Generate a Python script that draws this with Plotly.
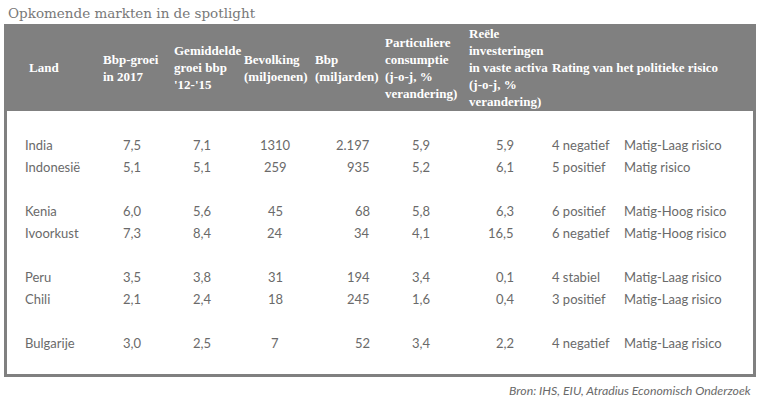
import plotly.graph_objects as go

# ---------------- data ----------------
countries = ["India", "Indonesië", "Kenia", "Ivoorkust", "Peru", "Chili", "Bulgarije"]
groups = [0, 0, 1, 1, 2, 2, 3]
bbp_groei_2017 = [7.5, 5.1, 6.0, 7.3, 3.5, 2.1, 3.0]
gem_groei_12_15 = [7.1, 5.1, 5.6, 8.4, 3.8, 2.4, 2.5]
bevolking_mln = [1310, 259, 45, 24, 31, 18, 7]
bbp_mld = [2197, 935, 68, 34, 194, 245, 52]
consumptie = [5.9, 5.2, 5.8, 4.1, 3.4, 1.6, 3.4]
investeringen = [5.9, 6.1, 6.3, 16.5, 0.1, 0.4, 2.2]
rating = ["4 negatief", "5 positief", "6 positief", "6 negatief", "4 stabiel", "3 positief", "4 negatief"]
risico = ["Matig-Laag risico", "Matig risico", "Matig-Hoog risico", "Matig-Hoog risico",
          "Matig-Laag risico", "Matig-Laag risico", "Matig-Laag risico"]

headers = ["Land", "Bbp-groei<br>in 2017", "Gemiddelde<br>groei bbp<br>'12-'15",
           "Bevolking<br>(miljoenen)", "Bbp<br>(miljarden)",
           "Particuliere<br>consumptie<br>(j-o-j, %<br>verandering)",
           "Reële<br>investeringen<br>in vaste activa<br>(j-o-j, %<br>verandering)",
           "Rating van het politieke risico"]

title = "Opkomende markten in de spotlight"
source = "Bron: IHS, EIU, Atradius Economisch Onderzoek"

# ---------------- formatting ----------------
def dec(v):
    return f"{v:.1f}".replace(".", ",")

def thousands(v):
    return f"{v:,}".replace(",", ".")

columns = [
    countries,
    [dec(v) for v in bbp_groei_2017],
    [dec(v) for v in gem_groei_12_15],
    [str(v) for v in bevolking_mln],
    [thousands(v) for v in bbp_mld],
    [dec(v) for v in consumptie],
    [dec(v) for v in investeringen],
    rating,
    risico,
]

# ---------------- layout constants (pixel space) ----------------
W, H = 763, 403
GRAY = "#808080"
TEXT = "#6a6a6a"
col_x = [23, 143, 213, 275, 372, 432, 516, 550, 622]
col_anchor = ["left", "right", "right", "center", "right", "right", "right", "left", "left"]
head_x = [27, 101, 172, 242, 313, 383, 467, 550]
HEAD_TOP, HEAD_BOT = 24, 111
ROW0, ROW_H = 144.5, 22

fig = go.Figure()
fig.add_trace(go.Scatter(x=[0, W], y=[0, H], mode="markers",
                         marker=dict(opacity=0), hoverinfo="skip", showlegend=False))

shapes = [
    dict(type="rect", xref="x", yref="y", x0=4, x1=756, y0=HEAD_TOP, y1=HEAD_BOT,
         fillcolor=GRAY, line=dict(width=0), layer="below"),
    dict(type="path", xref="x", yref="y",
         path=f"M 5.5 {HEAD_BOT} L 5.5 375.5 L 754.5 375.5 L 754.5 {HEAD_BOT}",
         line=dict(color=GRAY, width=3)),
]

ann = []
ann.append(dict(x=6, y=13, xref="x", yref="y", text=title, showarrow=False,
                xanchor="left", yanchor="middle",
                font=dict(family="DejaVu Serif", size=13.5, color="#787878")))
for hx, ht in zip(head_x, headers):
    ann.append(dict(x=hx, y=(HEAD_TOP + HEAD_BOT) / 2, xref="x", yref="y", text=ht,
                    showarrow=False, xanchor="left", yanchor="middle", align="left",
                    font=dict(family="Liberation Serif", size=13, color="white", weight="bold")))

for i in range(len(countries)):
    slot = i + groups[i]
    y = ROW0 + ROW_H * slot
    for c, vals in enumerate(columns):
        ann.append(dict(x=col_x[c], y=y, xref="x", yref="y", text=vals[i], showarrow=False,
                        xanchor=col_anchor[c], yanchor="middle",
                        font=dict(family="Lato", size=13, color=TEXT)))

ann.append(dict(x=753, y=390, xref="x", yref="y", text=f"<i>{source}</i>", showarrow=False,
                xanchor="right", yanchor="middle",
                font=dict(family="Lato", size=12.3, color="#6a6a6a")))

fig.update_layout(
    width=W, height=H, margin=dict(l=0, r=0, t=0, b=0),
    paper_bgcolor="white", plot_bgcolor="white",
    xaxis=dict(range=[0, W], visible=False, fixedrange=True),
    yaxis=dict(range=[H, 0], visible=False, fixedrange=True),
    shapes=shapes, annotations=ann, showlegend=False,
)

fig.write_html("out.html", config={"displayModeBar": False},
               post_script="document.body.style.margin='0';document.body.style.overflow='hidden';")
